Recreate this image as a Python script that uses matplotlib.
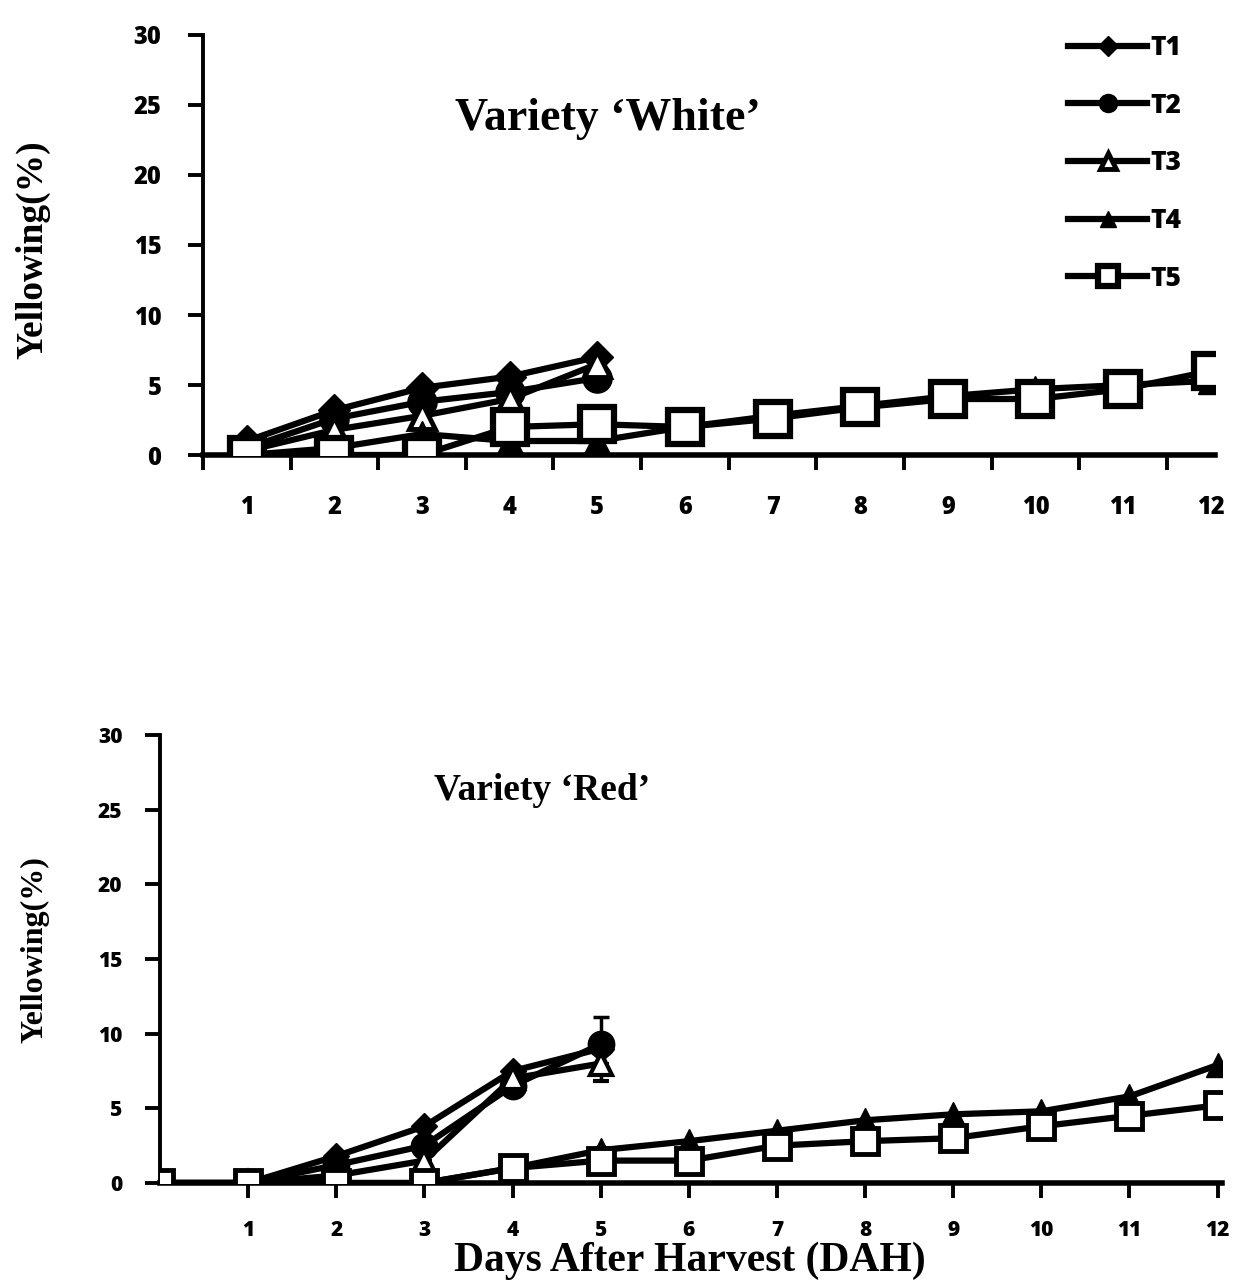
import matplotlib
matplotlib.use("Agg")
import matplotlib.pyplot as plt
import numpy as np

# ---- data ----
days_white_short = [1, 2, 3, 4, 5]
days_white_long = [1, 2, 3, 4, 5, 6, 7, 8, 9, 10, 11, 12]
white_T1 = [1.0, 3.2, 4.8, 5.6, 7.0]
white_T2 = [0.5, 2.6, 3.8, 4.5, 5.5]
white_T3 = [0.3, 1.8, 2.8, 4.0, 6.5]
white_T4 = [0.0, 0.5, 1.5, 1.0, 1.0, 2.0, 2.8, 3.5, 4.2, 4.7, 5.0, 5.3]
white_T5 = [0.0, 0.0, 0.0, 2.0, 2.2, 2.0, 2.6, 3.4, 4.0, 4.0, 4.7, 6.0]

days_red_short = [0, 1, 2, 3, 4, 5]
days_red_long = [0, 1, 2, 3, 4, 5, 6, 7, 8, 9, 10, 11, 12]
red_T1 = [0.0, 0.0, 1.8, 3.8, 7.5, 9.0]
red_T2 = [0.0, 0.0, 1.2, 2.5, 6.5, 9.3]
red_T2_err = [0, 0, 0, 0, 0, 1.8]
red_T3 = [0.0, 0.0, 0.5, 1.5, 7.0, 8.0]
red_T3_err = [0, 0, 0, 0, 0, 1.2]
red_T4 = [0.0, 0.0, 0.0, 0.0, 1.0, 2.2, 2.8, 3.5, 4.2, 4.6, 4.8, 5.8, 7.9]
red_T5 = [0.0, 0.0, 0.0, 0.0, 1.0, 1.5, 1.5, 2.5, 2.8, 3.0, 3.8, 4.5, 5.2]

xticklabels = ["1", "2", "3", "4", "5", "6", "7", "8", "9", "10", "11", "12"]
yticks = [0, 5, 10, 15, 20, 25, 30]
series_names = ["T1", "T2", "T3", "T4", "T5"]

fig = plt.figure(figsize=(12.45, 12.83), dpi=100)

LW = 4.5
tickfont = dict(family="Open Sans", weight="heavy")
serif = dict(family="Liberation Serif", weight="bold")

styles_top = {
    "T1": dict(marker="D", ms=16, mfc="black", mec="black"),
    "T2": dict(marker="o", ms=21, mfc="black", mec="black"),
    "T3": dict(marker="^", ms=19, mfc="white", mec="black", mew=3.5),
    "T4": dict(marker="^", ms=19, mfc="black", mec="black"),
    "T5": dict(marker="s", ms=24, mfc="white", mec="black", mew=4.5),
}
styles_bot = {
    "T1": dict(marker="D", ms=13, mfc="black", mec="black"),
    "T2": dict(marker="o", ms=19, mfc="black", mec="black"),
    "T3": dict(marker="^", ms=16, mfc="white", mec="black", mew=3),
    "T4": dict(marker="^", ms=17, mfc="black", mec="black"),
    "T5": dict(marker="s", ms=19, mfc="white", mec="black", mew=3.5),
}

def style_axes(ax, fs, pad):
    for s in ["top", "right"]:
        ax.spines[s].set_visible(False)
    ax.spines["left"].set_linewidth(2.8)
    ax.spines["bottom"].set_linewidth(4)
    ax.set_ylim(0, 30)
    ax.spines["left"].set_bounds(0, 30)
    ax.set_yticks(yticks)
    ax.tick_params(axis="y", direction="out", length=11, width=2.8, pad=pad)
    for lab in ax.get_yticklabels():
        lab.set_fontfamily("Open Sans")
        lab.set_fontweight("heavy")
        lab.set_fontsize(fs)

# ---- top: White ----
ax1 = fig.add_axes([203 / 1245, 1 - 455 / 1283, 1012 / 1245, 420 / 1283])
ax1.set_xlim(0.5, 12.05)
ax1.plot(days_white_short, white_T1, color="black", lw=LW, label="T1", **styles_top["T1"], zorder=5)
ax1.plot(days_white_short, white_T2, color="black", lw=LW, label="T2", **styles_top["T2"], zorder=5)
ax1.plot(days_white_short, white_T3, color="black", lw=LW, label="T3", **styles_top["T3"], zorder=5)
ax1.plot(days_white_long, white_T4, color="black", lw=LW, label="T4", **styles_top["T4"], zorder=5)
ax1.plot(days_white_long, white_T5, color="black", lw=LW, label="T5", **styles_top["T5"], zorder=6)
style_axes(ax1, 17, 19)
ax1.set_xticks(np.arange(0.5, 12, 1.0))
ax1.set_xticklabels([])
ax1.set_xticks(days_white_long, minor=True)
ax1.set_xticklabels(xticklabels, minor=True, fontsize=17, **tickfont)
ax1.tick_params(axis="x", which="major", direction="out", length=11, width=2.8)
ax1.tick_params(axis="x", which="minor", length=0, pad=29)
ax1.set_ylabel("Yellowing(%)", fontsize=27, **serif)
ax1.yaxis.set_label_coords(-0.151, 0.49)
ax1.text(0.40, 0.80, "Variety \u2018White\u2019", transform=ax1.transAxes, ha="center",
         va="center", fontsize=33, **serif)
leg = ax1.legend(loc="upper left", bbox_to_anchor=(0.855, 1.0), frameon=False,
                 handlelength=3.0, handletextpad=0.1, labelspacing=1.2, markerscale=0.62,
                 borderaxespad=0, borderpad=0,
                 prop=dict(family="Open Sans", weight="heavy", size=19))

# ---- bottom: Red ----
ax2 = fig.add_axes([160 / 1245, 1 - 1183 / 1283, 1062 / 1245, 448 / 1283])
ax2.set_xlim(0, 12.05)
ax2.plot(days_red_short, red_T1, color="black", lw=LW, **styles_bot["T1"], zorder=5)
ax2.errorbar(days_red_short, red_T2, yerr=[[0] * 6, red_T2_err], color="black", lw=LW,
             elinewidth=2.5, capsize=6, capthick=2.5, **styles_bot["T2"], zorder=5)
ax2.errorbar(days_red_short, red_T3, yerr=[red_T3_err, [0] * 6], color="black", lw=LW,
             elinewidth=2.5, capsize=6, capthick=2.5, **styles_bot["T3"], zorder=5)
ax2.plot(days_red_long, red_T4, color="black", lw=LW, **styles_bot["T4"], zorder=5)
ax2.plot(days_red_long, red_T5, color="black", lw=LW, **styles_bot["T5"], zorder=6)
style_axes(ax2, 15, 16)
ax2.set_xticks(days_red_long[1:])
ax2.set_xticklabels(xticklabels, fontsize=15, **tickfont)
ax2.tick_params(axis="x", direction="out", length=11, width=2.8, pad=16)
ax2.set_ylabel("Yellowing(%)", fontsize=23, **serif)
ax2.yaxis.set_label_coords(-0.104, 0.52)
ax2.set_xlabel("Days After Harvest (DAH)", fontsize=30, va="center", **serif)
ax2.xaxis.set_label_coords(0.499, -0.174)
ax2.text(0.36, 0.877, "Variety \u2018Red\u2019", transform=ax2.transAxes, ha="center",
         va="center", fontsize=27, **serif)

fig.savefig("out.png", dpi=100)
